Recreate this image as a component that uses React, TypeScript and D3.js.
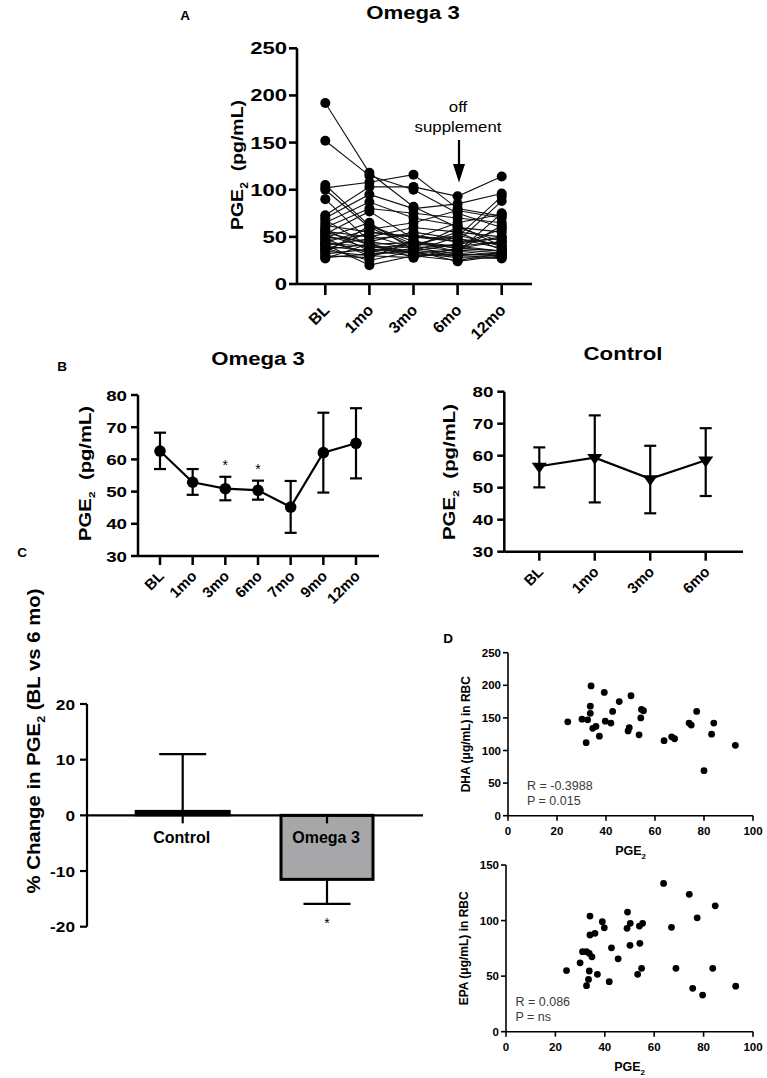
import React from 'react';
import * as d3 from 'd3';

const FONT = "'Liberation Sans', Arial, Helvetica, sans-serif";

// ---------- Panel A data ----------
const timeA = ['BL', '1mo', '3mo', '6mo', '12mo'];
const ticksA = [0, 50, 100, 150, 200, 250];
const subjectsA: number[][] = [
  [192, 118, 82, 60, 45],
  [152, 115, 100, 75, 60],
  [105, 62, 45, 38, 35],
  [102, 108, 116, 80, 72],
  [100, 60, 40, 35, 30],
  [90, 45, 38, 42, 50],
  [73, 103, 103, 93, 114],
  [70, 95, 80, 85, 96],
  [68, 40, 35, 50, 93],
  [65, 87, 70, 62, 40],
  [62, 55, 50, 45, 88],
  [60, 80, 75, 70, 65],
  [58, 35, 30, 32, 30],
  [56, 50, 60, 55, 50],
  [55, 42, 33, 28, 27],
  [53, 77, 48, 65, 74],
  [52, 38, 42, 40, 45],
  [50, 45, 55, 48, 38],
  [49, 65, 36, 30, 33],
  [48, 30, 28, 35, 62],
  [47, 52, 38, 60, 55],
  [45, 33, 45, 40, 35],
  [44, 58, 65, 78, 70],
  [43, 40, 32, 30, 28],
  [42, 20, 30, 25, 32],
  [41, 48, 52, 45, 48],
  [40, 35, 40, 55, 36],
  [38, 25, 35, 42, 58],
  [37, 42, 44, 38, 45],
  [36, 55, 50, 48, 42],
  [35, 30, 38, 32, 30],
  [33, 62, 42, 52, 40],
  [32, 37, 33, 36, 33],
  [30, 28, 46, 34, 75],
  [28, 32, 35, 24, 30],
  [27, 43, 28, 38, 35],
];

// ---------- Panel B data ----------
const ticksB = [30, 40, 50, 60, 70, 80];
const timeB1 = ['BL', '1mo', '3mo', '6mo', '7mo', '9mo', '12mo'];
const meanB1 = [62.6, 52.9, 50.9, 50.4, 45.2, 62.1, 65.0];
const lowB1 = [57.0, 49.0, 47.3, 47.5, 37.2, 49.7, 54.1];
const highB1 = [68.3, 57.0, 54.6, 53.4, 53.3, 74.5, 75.9];
const starsB1 = ['3mo', '6mo'];
const timeB2 = ['BL', '1mo', '3mo', '6mo'];
const meanB2 = [56.7, 59.4, 52.8, 58.6];
const lowB2 = [50.1, 45.4, 42.0, 47.4];
const highB2 = [62.6, 72.6, 63.1, 68.6];

// ---------- Panel C data ----------
const groupsC = ['Control', 'Omega 3'];
const changeC = [0.8, -11.5];
const errEndC = [11.0, -15.9];
const ticksC = [-20, -10, 0, 10, 20];

// ---------- Panel D data ----------
const ticksDx = [0, 20, 40, 60, 80, 100];
const ticksDhaY = [0, 50, 100, 150, 200, 250];
const ticksEpaY = [0, 50, 100, 150];
const dhaPge = [24.4, 30.2, 31.9, 32.5, 33.6, 33.6, 33.9, 34.6, 35.9, 37.3, 39.3, 39.7, 42.0, 42.7, 45.4, 49.0, 49.5, 50.2, 53.5, 54.2, 54.5, 55.3, 63.7, 66.8, 68.0, 73.9, 74.8, 77.0, 80.0, 83.1, 84.0, 92.8];
const dhaVal = [144, 148, 112, 147, 168, 157, 199, 134, 137, 122, 189, 145, 142, 160, 175, 130, 135, 184, 124, 150, 163, 161, 115, 121, 118, 142, 139, 160, 69, 125, 142, 108];
const epaPge = [24.5, 30.0, 31.0, 32.6, 34.0, 34.0, 36.0, 33.7, 34.8, 33.7, 33.4, 32.6, 37.0, 39.0, 39.8, 41.8, 42.7, 45.4, 49.2, 49.0, 50.3, 50.2, 53.3, 54.2, 54.0, 55.3, 54.9, 63.8, 67.0, 68.8, 74.2, 75.6, 77.4, 79.6, 83.7, 84.7, 93.0];
const epaVal = [55, 62, 72, 72, 104, 87, 88.5, 70.5, 67.4, 54.6, 47, 41.4, 51.6, 99, 93.5, 45, 75.5, 65.6, 107.6, 93, 97.5, 77.7, 51.6, 79.5, 95, 97.5, 57, 133.4, 93.9, 57, 123.6, 39, 102.5, 33, 57, 113.3, 41];

function T({ x, y, children, size = 14, weight = 'bold', anchor = 'middle', sx = 1, rot = 0, fill = '#000', len }: any) {
  const tr = rot === -90
    ? `translate(${x},${y}) rotate(-90) scale(1,${sx})`
    : `translate(${x},${y}) rotate(${rot}) scale(${sx},1)`;
  const extra: any = len ? { textLength: len, lengthAdjust: 'spacingAndGlyphs' } : {};
  return (
    <text transform={tr} fontSize={size} fontWeight={weight} textAnchor={anchor} fontFamily={FONT} fill={fill} style={{ whiteSpace: 'pre' }} {...extra}>
      {children}
    </text>
  );
}

function PGE({ size, pre, rest }: { size: number; pre?: string; rest?: string }) {
  const d = size * 0.28;
  return (
    <>
      {pre ? pre : ''}PGE<tspan fontSize={size * 0.62} dy={d}>2</tspan>
      {rest ? <tspan dy={-d}>{rest}</tspan> : null}
    </>
  );
}

export default function App() {
  // Panel A scales
  const xA = d3.scalePoint<string>().domain(timeA).range([325.3, 501.7]);
  const yA = d3.scaleLinear().domain([0, 250]).range([284, 48.3]);
  const lineA = d3.line<number>().x((_, i) => xA(timeA[i])!).y((v) => yA(v));

  // Panel B scales
  const xB1 = d3.scalePoint<string>().domain(timeB1).range([160, 356]);
  const yB1 = d3.scaleLinear().domain([30, 80]).range([556, 395]);
  const lineB1 = d3.line<number>().x((_, i) => xB1(timeB1[i])!).y((v) => yB1(v));
  const xB2 = d3.scalePoint<string>().domain(timeB2).range([539.3, 705.7]);
  const yB2 = d3.scaleLinear().domain([30, 80]).range([551.7, 391.7]);
  const lineB2 = d3.line<number>().x((_, i) => xB2(timeB2[i])!).y((v) => yB2(v));

  // Panel C scales
  const xC = d3.scalePoint<string>().domain(groupsC).range([182.7, 327]);
  const yC = d3.scaleLinear().domain([-20, 20]).range([926.7, 704]);

  // Panel D scales
  const xD1 = d3.scaleLinear().domain([0, 100]).range([508, 753]);
  const yD1 = d3.scaleLinear().domain([0, 250]).range([815.7, 652.7]);
  const xD2 = d3.scaleLinear().domain([0, 100]).range([506, 753]);
  const yD2 = d3.scaleLinear().domain([0, 150]).range([1031.7, 865]);

  const tri = d3.symbol().type(d3.symbolTriangle).size(75)();

  const bPanel = (
    xs: d3.ScalePoint<string>, ys: d3.ScaleLinear<number, number>, cats: string[],
    mean: number[], low: number[], high: number[], line: any, axX: number, axEnd: number, triangle: boolean,
  ) => {
    const y0 = ys(30);
    return (
      <g>
        <line x1={axX} x2={axX} y1={ys(80)} y2={y0} stroke="#000" strokeWidth={2.5} />
        <line x1={axX} x2={axEnd} y1={y0} y2={y0} stroke="#000" strokeWidth={2.5} />
        {ticksB.map((t) => (
          <g key={t}>
            <line x1={axX - 7} x2={axX} y1={ys(t)} y2={ys(t)} stroke="#000" strokeWidth={2.5} />
            <T x={axX - 11} y={ys(t) + 5.5} size={15} sx={1.25} anchor="end">{t}</T>
          </g>
        ))}
        {cats.map((c) => (
          <g key={c}>
            <line x1={xs(c)} x2={xs(c)} y1={y0} y2={y0 + 9} stroke="#000" strokeWidth={2.5} />
            <T x={xs(c)! + 5} y={y0 + 21} size={15} rot={-45} anchor="end">{c}</T>
          </g>
        ))}
        <path d={line(mean)} fill="none" stroke="#000" strokeWidth={2.2} />
        {cats.map((c, i) => (
          <g key={'e' + c} stroke="#000" strokeWidth={2.2}>
            <line x1={xs(c)} x2={xs(c)} y1={ys(low[i])} y2={ys(high[i])} />
            <line x1={xs(c)! - 6} x2={xs(c)! + 6} y1={ys(low[i])} y2={ys(low[i])} />
            <line x1={xs(c)! - 6} x2={xs(c)! + 6} y1={ys(high[i])} y2={ys(high[i])} />
          </g>
        ))}
        {cats.map((c, i) =>
          triangle ? (
            <path key={'m' + c} d={tri!} transform={`translate(${xs(c)},${ys(mean[i])}) rotate(180) scale(1.15,0.95)`} fill="#000" />
          ) : (
            <circle key={'m' + c} cx={xs(c)} cy={ys(mean[i])} r={5.8} fill="#000" />
          ),
        )}
      </g>
    );
  };

  const dPanel = (
    xs: d3.ScaleLinear<number, number>, ys: d3.ScaleLinear<number, number>, yt: number[],
    px: number[], py: number[], yLabel: string, r: string, p: string, textX: number,
  ) => {
    const x0 = xs(0);
    const y0 = ys(0);
    const yTop = ys(yt[yt.length - 1]);
    return (
      <g>
        <line x1={x0} x2={x0} y1={yTop} y2={y0} stroke="#000" strokeWidth={1.6} />
        <line x1={x0} x2={xs(100)} y1={y0} y2={y0} stroke="#000" strokeWidth={1.6} />
        {yt.map((t) => (
          <g key={t}>
            <line x1={x0 - 5} x2={x0} y1={ys(t)} y2={ys(t)} stroke="#000" strokeWidth={1.6} />
            <T x={x0 - 7} y={ys(t) + 4} size={11} anchor="end" sx={1.05}>{t}</T>
          </g>
        ))}
        {ticksDx.map((t) => (
          <g key={t}>
            <line x1={xs(t)} x2={xs(t)} y1={y0} y2={y0 + 5} stroke="#000" strokeWidth={1.6} />
            <T x={xs(t)} y={y0 + 19.5} size={11} sx={1.05}>{t}</T>
          </g>
        ))}
        {px.map((v, i) => (
          <circle key={i} cx={xs(v)} cy={ys(py[i])} r={3.4} fill="#000" />
        ))}
        <T x={(xs(0) + xs(100)) / 2} y={y0 + 39.5} size={12.5}><PGE size={12.5} /></T>
        <T x={x0 - 38} y={(yTop + y0) / 2} size={12} rot={-90}>{yLabel}</T>
        <T x={textX} y={y0 - 26} size={12.5} weight="normal" anchor="start" fill="#3a3a3a">{r}</T>
        <T x={textX} y={y0 - 11} size={12.5} weight="normal" anchor="start" fill="#3a3a3a">{p}</T>
      </g>
    );
  };

  return (
    <svg width={767} height={1078} style={{ position: 'absolute', left: 0, top: 0, background: '#fff' }}>
      <rect x={0} y={0} width={767} height={1078} fill="#fff" />

      {/* ================= Panel A ================= */}
      <T x={185} y={20} size={13.5}>A</T>
      <T x={413} y={18.5} size={18.5} sx={1.2}>Omega 3</T>
      <line x1={297} x2={297} y1={yA(250)} y2={yA(0)} stroke="#000" strokeWidth={2.6} />
      <line x1={297} x2={532} y1={yA(0)} y2={yA(0)} stroke="#000" strokeWidth={2.6} />
      {ticksA.map((t) => (
        <g key={t}>
          <line x1={289} x2={297} y1={yA(t)} y2={yA(t)} stroke="#000" strokeWidth={2.6} />
          <T x={287} y={yA(t) + 6} size={17} sx={1.3} anchor="end">{t}</T>
        </g>
      ))}
      {timeA.map((c) => (
        <g key={c}>
          <line x1={xA(c)} x2={xA(c)} y1={yA(0)} y2={yA(0) + 11} stroke="#000" strokeWidth={2.6} />
          <T x={xA(c)! + 5} y={yA(0) + 27} size={16} rot={-45} anchor="end">{c}</T>
        </g>
      ))}
      <T x={243} y={165} size={17} rot={-90} len={130}><PGE size={17} rest={'  (pg/mL)'} /></T>
      {subjectsA.map((s, i) => (
        <path key={'l' + i} d={lineA(s)!} fill="none" stroke="#111" strokeWidth={1.1} />
      ))}
      {subjectsA.map((s, i) => (
        <g key={'p' + i}>
          {s.map((v, j) => (
            <circle key={j} cx={xA(timeA[j])} cy={yA(v)} r={5} fill="#000" />
          ))}
        </g>
      ))}
      <T x={458} y={111.7} size={14} weight="normal" sx={1.2}>off</T>
      <T x={458} y={131.7} size={14} weight="normal" sx={1.2}>supplement</T>
      <line x1={459} x2={459} y1={140} y2={166} stroke="#000" strokeWidth={2.2} />
      <path d="M453,164 L465,164 L459,182.5 Z" fill="#000" />

      {/* ================= Panel B ================= */}
      <T x={62} y={370.7} size={13.5}>B</T>
      <T x={258} y={365} size={18.5} sx={1.2}>Omega 3</T>
      <T x={623} y={360} size={18.5} sx={1.2}>Control</T>
      {bPanel(xB1, yB1, timeB1, meanB1, lowB1, highB1, lineB1, 138, 379, false)}
      {bPanel(xB2, yB2, timeB2, meanB2, lowB2, highB2, lineB2, 504.3, 743, true)}
      {starsB1.map((c) => {
        const i = timeB1.indexOf(c);
        return <T key={c} x={xB1(c)} y={yB1(highB1[i]) - 7} size={14} weight="normal">*</T>;
      })}
      <T x={91} y={473.5} size={16} rot={-90} len={135}><PGE size={16} rest={'  (pg/mL)'} /></T>
      <T x={455} y={472} size={16} rot={-90} len={136}><PGE size={16} rest={'  (pg/mL)'} /></T>

      {/* ================= Panel C ================= */}
      <T x={22} y={557} size={13.5}>C</T>
      <line x1={87} x2={87} y1={yC(20)} y2={yC(-20)} stroke="#000" strokeWidth={2.2} />
      {ticksC.map((t) => (
        <g key={t}>
          <line x1={80} x2={87} y1={yC(t)} y2={yC(t)} stroke="#000" strokeWidth={2.2} />
          <T x={75} y={yC(t) + 5.5} size={15} sx={1.15} anchor="end">{t}</T>
        </g>
      ))}
      <T x={40} y={741} size={17.5} rot={-90} len={305}><PGE size={17.5} pre={'% Change in '} rest={' (BL vs 6 mo)'} /></T>
      {/* bars */}
      <rect x={xC('Control')! - 47} width={94} y={yC(changeC[0])} height={yC(0) - yC(changeC[0])} fill="#000" stroke="#000" strokeWidth={2} />
      <rect x={xC('Omega 3')! - 46} width={92} y={yC(0)} height={yC(changeC[1]) - yC(0)} fill="#a7a7aa" stroke="#000" strokeWidth={3} />
      <line x1={87} x2={423} y1={yC(0)} y2={yC(0)} stroke="#000" strokeWidth={2.2} />
      {groupsC.map((g) => (
        <line key={g} x1={xC(g)} x2={xC(g)} y1={yC(0)} y2={yC(0) + 8} stroke="#000" strokeWidth={2.2} />
      ))}
      {groupsC.map((g, i) => (
        <g key={'e' + g} stroke="#000" strokeWidth={2.2}>
          <line x1={xC(g)} x2={xC(g)} y1={yC(changeC[i])} y2={yC(errEndC[i])} />
          <line x1={xC(g)! - 23.5} x2={xC(g)! + 23.5} y1={yC(errEndC[i])} y2={yC(errEndC[i])} />
        </g>
      ))}
      {groupsC.map((g) => (
        <T key={'t' + g} x={xC(g)! - 1} y={843} size={16}>{g}</T>
      ))}
      <T x={xC('Omega 3')} y={928} size={14} weight="normal">*</T>

      {/* ================= Panel D ================= */}
      <T x={448} y={643} size={13.5}>D</T>
      {dPanel(xD1, yD1, ticksDhaY, dhaPge, dhaVal, 'DHA (\u03bcg/mL) in RBC', 'R = -0.3988', 'P = 0.015', 527)}
      {dPanel(xD2, yD2, ticksEpaY, epaPge, epaVal, 'EPA (\u03bcg/mL) in RBC', 'R = 0.086', 'P = ns', 515.5)}
    </svg>
  );
}
